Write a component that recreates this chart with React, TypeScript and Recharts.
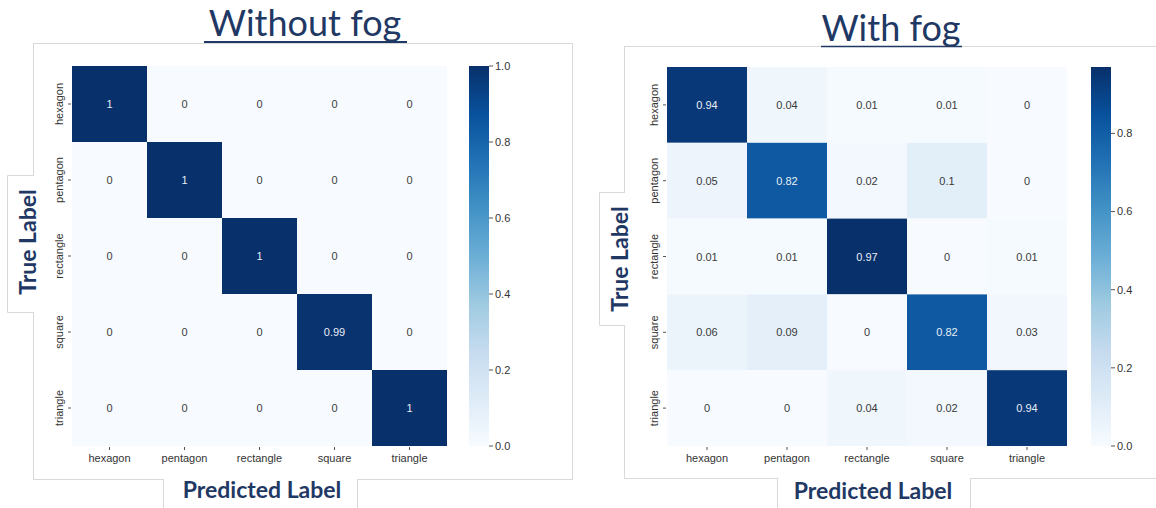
import React from "react";
import { ScatterChart, Scatter, XAxis, YAxis, BarChart, Bar } from "recharts";

const CLASSES = ["hexagon", "pentagon", "rectangle", "square", "triangle"];

// rows = true label, cols = predicted label
const NO_FOG = [
  [1, 0, 0, 0, 0],
  [0, 1, 0, 0, 0],
  [0, 0, 1, 0, 0],
  [0, 0, 0, 0.99, 0],
  [0, 0, 0, 0, 1],
];
const WITH_FOG = [
  [0.94, 0.04, 0.01, 0.01, 0],
  [0.05, 0.82, 0.02, 0.1, 0],
  [0.01, 0.01, 0.97, 0, 0.01],
  [0.06, 0.09, 0, 0.82, 0.03],
  [0, 0, 0.04, 0.02, 0.94],
];
const NO_FOG_TICKS = [0, 0.2, 0.4, 0.6, 0.8, 1.0];
const WITH_FOG_TICKS = [0, 0.2, 0.4, 0.6, 0.8];
const CELL_TICKS = [0.5, 1.5, 2.5, 3.5, 4.5];

const BLUES = ["#f7fbff", "#deebf7", "#c6dbef", "#9ecae1", "#6baed6", "#4292c6", "#2171b5", "#08519c", "#08306b"];
const NAVY = "#1f3864";
const FRAME = "#d9d9d9";
const FONT = "'Liberation Sans', Arial, sans-serif";
const TITLE_FONT = "Lato, 'Open Sans', sans-serif";

const hex = (c: string) => [1, 3, 5].map((i) => parseInt(c.slice(i, i + 2), 16));

function blues(t: number) {
  const s = Math.max(0, Math.min(1, t)) * (BLUES.length - 1);
  const i = Math.min(Math.floor(s), BLUES.length - 2);
  const f = s - i;
  const a = hex(BLUES[i]);
  const b = hex(BLUES[i + 1]);
  const m = a.map((v, k) => Math.round(v + (b[k] - v) * f));
  return `rgb(${m[0]},${m[1]},${m[2]})`;
}

const AXW = 30;
const AXH = 30;

function toPoints(matrix: number[][]) {
  const pts: { x: number; y: number; v: number }[] = [];
  matrix.forEach((row, r) => row.forEach((v, c) => pts.push({ x: c + 0.5, y: r + 0.5, v })));
  return pts;
}

function XTick({ x, y, payload }: any) {
  return (
    <g>
      <line x1={x} x2={x} y1={y + 1} y2={y + 4} stroke="#555" strokeWidth={1} />
      <text x={x} y={y + 12} textAnchor="middle" dominantBaseline="central" fontSize={11} fill="#333" fontFamily={FONT}>
        {CLASSES[Math.floor(payload.value)]}
      </text>
    </g>
  );
}

function YTick({ x, y, payload }: any) {
  const tx = x - 13;
  return (
    <g>
      <line x1={x - 4} x2={x - 1} y1={y} y2={y} stroke="#555" strokeWidth={1} />
      <text
        x={tx}
        y={y}
        transform={`rotate(-90, ${tx}, ${y})`}
        textAnchor="middle"
        dominantBaseline="central"
        fontSize={11}
        fill="#333"
        fontFamily={FONT}
      >
        {CLASSES[Math.floor(payload.value)]}
      </text>
    </g>
  );
}

function HeatMap({ left, top, w, h, matrix, vmax }: any) {
  const cw = w / 5;
  const ch = h / 5;
  const shape = (p: any) => {
    const v = p.payload.v;
    const t = v / vmax;
    return (
      <g>
        <rect x={p.cx - cw / 2} y={p.cy - ch / 2} width={cw} height={ch} fill={blues(t)} />
        <text
          x={p.cx}
          y={p.cy}
          textAnchor="middle"
          dominantBaseline="central"
          fontSize={11}
          fontFamily={FONT}
          fill={t > 0.6 ? "#e8eef6" : "#3a3a3a"}
        >
          {String(v)}
        </text>
      </g>
    );
  };
  return (
    <div style={{ position: "absolute", left: left - AXW, top }}>
      <ScatterChart width={w + AXW} height={h + AXH} margin={{ top: 0, right: 0, bottom: 0, left: 0 }}>
        <XAxis
          type="number"
          dataKey="x"
          domain={[0, 5]}
          ticks={CELL_TICKS}
          height={AXH}
          axisLine={false}
          tickLine={false}
          tickSize={0}
          tickMargin={0}
          tick={<XTick />}
          interval={0}
        />
        <YAxis
          type="number"
          dataKey="y"
          domain={[0, 5]}
          ticks={CELL_TICKS}
          reversed
          width={AXW}
          axisLine={false}
          tickLine={false}
          tickSize={0}
          tickMargin={0}
          tick={<YTick />}
          interval={0}
        />
        <Scatter data={toPoints(matrix)} shape={shape} isAnimationActive={false} />
      </ScatterChart>
    </div>
  );
}

function ColorBar({ left, top, w, h, vmax, ticks, id }: any) {
  const pad = 8;
  return (
    <div style={{ position: "absolute", left, top: top - pad }}>
      <BarChart
        width={w + 40}
        height={h + pad * 2}
        data={[{ k: "cb", v: vmax }]}
        margin={{ top: pad, right: 0, bottom: pad, left: 0 }}
        barCategoryGap={0}
      >
        <defs>
          <linearGradient id={id} x1="0" y1="1" x2="0" y2="0">
            {BLUES.map((c, i) => (
              <stop key={i} offset={i / (BLUES.length - 1)} stopColor={c} />
            ))}
          </linearGradient>
        </defs>
        <XAxis dataKey="k" hide />
        <YAxis
          orientation="right"
          domain={[0, vmax]}
          ticks={ticks}
          width={40}
          axisLine={false}
          tickSize={4}
          tickMargin={2}
          tickLine={{ stroke: "#555" }}
          tick={{ fontSize: 11, fill: "#333", fontFamily: FONT }}
          tickFormatter={(v: number) => v.toFixed(1)}
          interval={0}
        />
        <Bar dataKey="v" fill={`url(#${id})`} isAnimationActive={false} />
      </BarChart>
    </div>
  );
}

function Decor() {
  const lbl = { fontFamily: TITLE_FONT, fontWeight: 700, fill: NAVY } as const;
  return (
    <svg width={1156} height={508} style={{ position: "absolute", left: 0, top: 0 }}>
      {/* left panel frame */}
      <rect x={33.5} y={43.5} width={539} height={436} fill="#fff" stroke={FRAME} />
      <path d="M34 175.5 H7.5 V312.5 H34" fill="#fff" stroke={FRAME} />
      <rect x={8} y={176} width={27} height={136} fill="#fff" />
      <path d="M163.5 479 V508 M357.5 479 V508" stroke={FRAME} />
      <rect x={164} y={479} width={193} height={29} fill="#fff" />
      {/* right panel frame */}
      <rect x={624.5} y={46.5} width={560} height={432} fill="#fff" stroke={FRAME} />
      <path d="M625 192.5 H599.5 V325.5 H625" fill="#fff" stroke={FRAME} />
      <rect x={600} y={193} width={26} height={132} fill="#fff" />
      <path d="M777.5 478 V508 M970.5 478 V508" stroke={FRAME} />
      <rect x={778} y={478} width={192} height={30} fill="#fff" />

      {/* titles */}
      <text x={305} y={36} textAnchor="middle" fontSize={36} fontFamily={TITLE_FONT} fill={NAVY}>
        Without fog
      </text>
      <line x1={204} x2={407} y1={42} y2={42} stroke={NAVY} strokeWidth={2} />
      <text x={891} y={41} textAnchor="middle" fontSize={36} fontFamily={TITLE_FONT} fill={NAVY}>
        With fog
      </text>
      <line x1={821} x2={962} y1={46.5} y2={46.5} stroke={NAVY} strokeWidth={1.5} />

      {/* axis titles */}
      <text x={262} y={498} textAnchor="middle" fontSize={23} {...lbl}>
        Predicted Label
      </text>
      <text x={873} y={499} textAnchor="middle" fontSize={23} {...lbl}>
        Predicted Label
      </text>
      <text x={36} y={242} transform="rotate(-90, 36, 242)" textAnchor="middle" fontSize={23} {...lbl}>
        True Label
      </text>
      <text x={628} y={259} transform="rotate(-90, 628, 259)" textAnchor="middle" fontSize={23} {...lbl}>
        True Label
      </text>
    </svg>
  );
}

export default function App() {
  return (
    <div style={{ position: "absolute", left: 0, top: 0, width: 1156, height: 508, background: "#fff", overflow: "hidden" }}>
      <Decor />
      <HeatMap left={72} top={66} w={375} h={380} matrix={NO_FOG} vmax={1} />
      <ColorBar left={469} top={66} w={20} h={380} vmax={1} ticks={NO_FOG_TICKS} id="cbNoFog" />
      <HeatMap left={667} top={67} w={400} h={379} matrix={WITH_FOG} vmax={0.97} />
      <ColorBar left={1091} top={67} w={20} h={379} vmax={0.97} ticks={WITH_FOG_TICKS} id="cbFog" />
    </div>
  );
}
